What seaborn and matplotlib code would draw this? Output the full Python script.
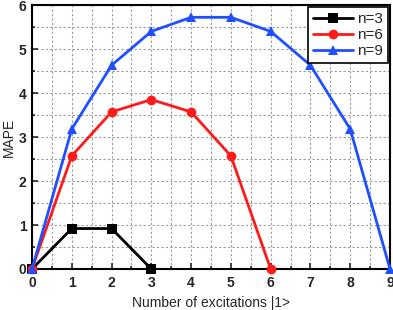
import numpy as np
import pandas as pd
import matplotlib
matplotlib.use('Agg')
import matplotlib.pyplot as plt
import seaborn as sns

# 데이터
x3 = [0, 1, 2, 3]
y3 = [0, 0.92, 0.92, 0]
x6 = [0, 1, 2, 3, 4, 5, 6]
y6 = [0, 2.57, 3.57, 3.85, 3.57, 2.57, 0]
x9 = [0, 1, 2, 3, 4, 5, 6, 7, 8, 9]
y9 = [0, 3.18, 4.63, 5.40, 5.72, 5.72, 5.40, 4.63, 3.18, 0]

sns.set_style('ticks')
plt.rcParams['font.family'] = ['Liberation Sans', 'DejaVu Sans']

df = pd.concat([
    pd.DataFrame({'x': x3, 'y': y3, 'n': 'n=3'}),
    pd.DataFrame({'x': x6, 'y': y6, 'n': 'n=6'}),
    pd.DataFrame({'x': x9, 'y': y9, 'n': 'n=9'}),
])

fig = plt.figure(figsize=(3.93, 3.10), dpi=100)
ax = fig.add_axes([32 / 393, 1 - 269 / 310, 358 / 393, 264 / 310])

palette = {'n=3': '#000000', 'n=6': '#ff1a1a', 'n=9': '#1f4fff'}
markers = {'n=3': 's', 'n=6': 'o', 'n=9': '^'}
sns.lineplot(data=df, x='x', y='y', hue='n', style='n', palette=palette,
             markers=markers, dashes=False, markersize=7, linewidth=2,
             markeredgewidth=0, ax=ax, clip_on=False, zorder=3)

ax.set_xlim(0, 9)
ax.set_ylim(0, 6)
ax.set_xticks(range(0, 10))
ax.set_yticks(range(0, 7))
ax.set_xticks(np.arange(0.5, 9, 1), minor=True)
ax.set_yticks(np.arange(0.5, 6, 1), minor=True)
ax.grid(True, which='both', color='#999999', linestyle=(0, (2, 2)), linewidth=0.8)
ax.tick_params(which='both', direction='in', top=False, right=False, width=1.2)
ax.tick_params(which='major', length=4, labelsize=10)
ax.tick_params(axis='y', which='major', pad=4)
ax.tick_params(axis='x', which='major', pad=5)
ax.tick_params(which='minor', length=2)
for lbl in ax.get_xticklabels() + ax.get_yticklabels():
    lbl.set_fontweight('bold')
for s in ax.spines.values():
    s.set_linewidth(1.5)
    s.set_color('black')

ax.set_xlabel('Number of excitations |1>', fontsize=10, labelpad=4)
ax.set_ylabel('MAPE', fontsize=10, labelpad=2)

leg = ax.legend(loc='upper right', fontsize=11, frameon=True, fancybox=False,
                borderaxespad=0.15, handlelength=2.6, labelspacing=0.15,
                borderpad=0.3, handletextpad=0.3)
leg.get_frame().set_edgecolor('black')
leg.get_frame().set_linewidth(1.2)
leg.get_frame().set_alpha(1)

plt.savefig('out.png', dpi=100)
